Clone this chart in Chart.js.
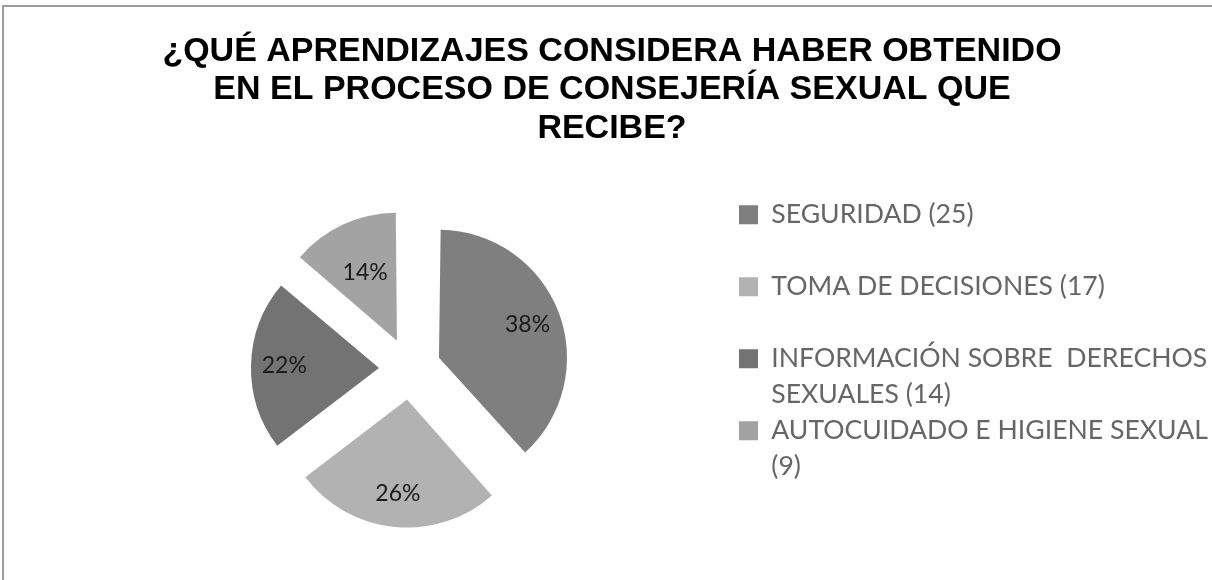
<!DOCTYPE html>
<html>
<head>
<meta charset="utf-8">
<script src="https://cdn.jsdelivr.net/npm/chart.js@4.4.1/dist/chart.umd.min.js"></script>
<style>
  html, body { margin:0; padding:0; background:#fff; }
  body { width:1212px; height:580px; overflow:hidden; position:relative; }
  /* outer frame of the original chart, cut off on the right and bottom */
  .frame { position:absolute; left:2px; top:5px; width:1300px; height:700px; border:2px solid #9c9c9c; box-sizing:border-box; }
  .wrap { position:absolute; left:0; top:0; width:1212px; height:580px; }
</style>
</head>
<body>
<div class="frame"></div>
<div class="wrap"><canvas id="pie"></canvas></div>
<script>
const titleLines = ['¿QUÉ APRENDIZAJES CONSIDERA HABER OBTENIDO', 'EN EL PROCESO DE CONSEJERÍA SEXUAL QUE', 'RECIBE?'];
const categories = ['SEGURIDAD', 'TOMA DE DECISIONES', 'INFORMACIÓN SOBRE  DERECHOS SEXUALES', 'AUTOCUIDADO E HIGIENE SEXUAL'];
const counts = [25, 17, 14, 9];
const sliceColors = ['#7f7f7f', '#b2b2b2', '#737373', '#a3a3a3'];

const legendFont = {family: 'Lato', size: 26.6, lineHeight: '36px'};
const PIE_R = 128;

// split a legend label into two lines so every entry takes the same height
function wrapLabel(text, maxW){
  const c = document.createElement('canvas').getContext('2d');
  c.font = legendFont.size + 'px ' + legendFont.family;
  const words = text.split(' ');
  const lines = [];
  let line = '';
  words.forEach(w => {
    const test = line === '' ? w : line + ' ' + w;
    if(c.measureText(test).width > maxW && line !== ''){ lines.push(line); line = w; }
    else line = test;
  });
  lines.push(line);
  while(lines.length < 2) lines.push('');
  return lines;
}

// Chart.js grows small exploded slices a bit; keep all slices at the same radius
const evenRadius = {
  id: 'evenRadius',
  beforeDatasetsDraw(chart){
    chart.getDatasetMeta(0).data.forEach(arc => {
      const shift = (arc.options.offset || 0) / 4;
      const fix = 1 - Math.sin(Math.min(Math.PI, arc.circumference));
      arc.outerRadius = PIE_R - shift * fix;
    });
  }
};

// percentage labels inside the slices
const pctLabels = {
  id: 'pctLabels',
  afterDatasetsDraw(chart, args, opts){
    const ctx = chart.ctx;
    const meta = chart.getDatasetMeta(0);
    const data = chart.data.datasets[0].data;
    const total = data.reduce((a, b) => a + b, 0);
    ctx.save();
    ctx.font = opts.font;
    ctx.fillStyle = opts.color;
    ctx.textAlign = 'center';
    ctx.textBaseline = 'middle';
    meta.data.forEach((arc, i) => {
      const mid = (arc.startAngle + arc.endAngle) / 2;
      const shift = (arc.options.offset || 0) / 4;
      const d = shift + PIE_R * opts.dist[i];
      ctx.fillText(Math.round(data[i] / total * 100) + '%', arc.x + Math.cos(mid) * d, arc.y + Math.sin(mid) * d);
    });
    ctx.restore();
  }
};

document.addEventListener('DOMContentLoaded', () => {
  const ctx = document.getElementById('pie').getContext('2d');
  new Chart(ctx, {
    type: 'pie',
    data: {
      labels: categories,
      datasets: [{
        data: counts,
        backgroundColor: sliceColors,
        borderWidth: 0,
        offset: 124
      }]
    },
    options: {
      responsive: true,
      maintainAspectRatio: false,
      animation: false,
      radius: PIE_R,
      layout: {padding: {left: 12, right: 0, top: 0, bottom: 0}},
      plugins: {
        title: {
          display: true,
          text: titleLines,
          color: '#000',
          font: {family: '"Liberation Sans", Arial, sans-serif', size: 34, weight: 'bold', lineHeight: 38.5 / 34},
          padding: {top: 32, bottom: 10}
        },
        // empty left box, only pushes the pie to the right
        subtitle: {
          display: true,
          position: 'left',
          fullSize: false,
          text: '',
          padding: 0,
          font: {size: 10, lineHeight: '69px'}
        },
        legend: {
          position: 'right',
          align: 'start',
          fullSize: false,
          maxWidth: 473,
          title: {display: true, text: '', padding: 0, font: {size: 10, lineHeight: '44px'}},
          labels: {
            boxWidth: 19,
            boxHeight: 19,
            padding: 0,
            color: '#1f1f1f',
            font: legendFont,
            generateLabels(chart){
              const ds = chart.data.datasets[0];
              return chart.data.labels.map((lab, i) => ({
                text: wrapLabel(lab + ' (' + ds.data[i] + ')', 445),
                fillStyle: ds.backgroundColor[i],
                strokeStyle: ds.backgroundColor[i],
                lineWidth: 0,
                hidden: false,
                index: i
              }));
            }
          }
        },
        tooltip: {enabled: false},
        pctLabels: {font: '23px Lato', color: '#1a1a1a', dist: [0.74, 0.74, 0.74, 0.59]}
      }
    },
    plugins: [evenRadius, pctLabels]
  });
});
</script>
</body>
</html>
